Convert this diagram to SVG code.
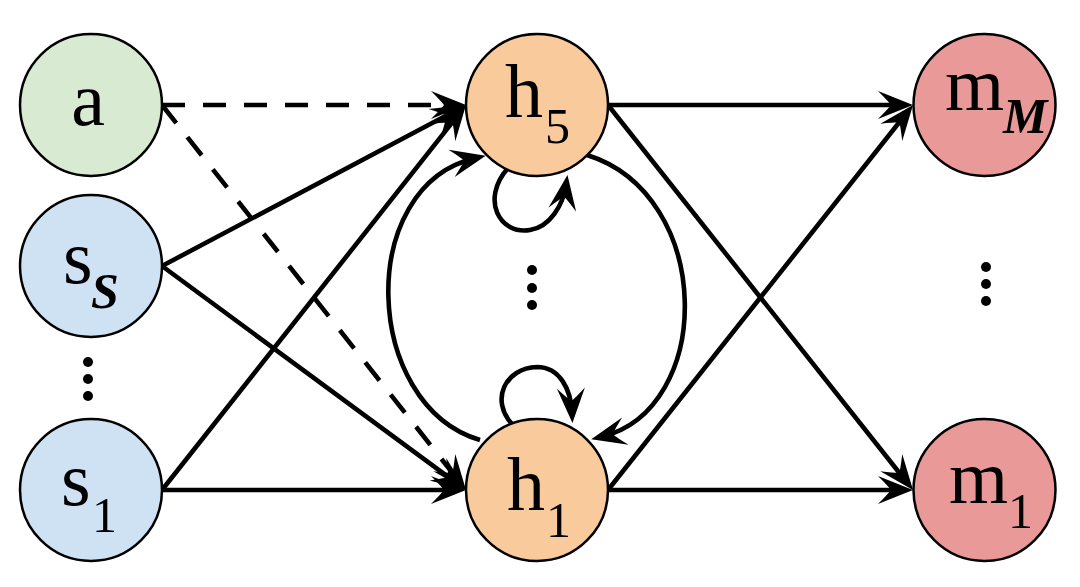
<svg xmlns="http://www.w3.org/2000/svg" width="1080" height="587" viewBox="0 0 1080 587">
<style>
.node{stroke:#000;stroke-width:2.5}
.a{fill:#d9ead3}.s{fill:#cfe2f3}.h{fill:#f9cb9c}.m{fill:#ea9999}
.lbl{font-family:"Liberation Serif",serif;font-size:76px;fill:#000}
.sub{font-family:"Liberation Serif",serif;font-size:50px;fill:#000}
.bi{font-weight:bold;font-style:italic}
.e{fill:none;stroke:#000;stroke-width:4.6;marker-end:url(#arr)}
.d{stroke-dasharray:23 18}
.dot{fill:#000}
</style>
<defs>
<marker id="arr" viewBox="-27 -16 40 32" refX="0" refY="0" markerWidth="40" markerHeight="32" markerUnits="userSpaceOnUse" orient="auto">
<path d="M10,0 L-25,-14 Q-15,-4 -12,0 Q-15,4 -25,14 Z" fill="#000" stroke="none"/>
</marker>
</defs>
<rect width="1080" height="587" fill="#fff"/>
<g id="connectors">
<path class="e d" d="M162,105 L456,105"/>
<path class="e d" d="M162,105 L459.8,482.2"/>
<path class="e" d="M162,266 L457.2,109.7"/>
<path class="e" d="M162,266 L458,484.1"/>
<path class="e" d="M162,490 L459.8,112.9"/>
<path class="e" d="M162,490 L456,490"/>
<path class="e" d="M608,105 L903,105"/>
<path class="e" d="M608,105 L906.8,482.2"/>
<path class="e" d="M608,490 L906.8,112.8"/>
<path class="e" d="M608,490 L903,490"/>
<path class="e" d="M480,440 C362,405 355,185 476,158"/>
<path class="e" d="M587,155 C715,195 715,410 601,437"/>
<path class="e" d="M508,168 C480,200 500,235 530,230 C550,227 563,205 566,185"/>
<path class="e" d="M512,424 C490,400 505,368 537,367 C560,367 571,390 572,413"/>
</g>
<g id="node-a"><circle class="node a" cx="91" cy="105" r="71"/><text class="lbl" x="88" y="125" text-anchor="middle">a</text></g>
<g id="node-sS"><circle class="node s" cx="91" cy="266" r="71"/><text class="lbl" x="63" y="283">s</text><text class="sub bi" x="91" y="308">S</text></g>
<g id="node-s1"><circle class="node s" cx="91" cy="490" r="71"/><text class="lbl" x="61" y="505">s</text><text class="sub" x="92" y="532">1</text></g>
<g id="node-h5"><circle class="node h" cx="537" cy="105" r="71"/><text class="lbl" x="505" y="117">h</text><text class="sub" x="545" y="143">5</text></g>
<g id="node-h1"><circle class="node h" cx="537" cy="490" r="71"/><text class="lbl" x="507" y="510">h</text><text class="sub" x="546" y="537">1</text></g>
<g id="node-mM"><circle class="node m" cx="984.5" cy="105" r="71"/><text class="lbl" x="945" y="110">m</text><text class="sub bi" x="1003" y="133">M</text></g>
<g id="node-m1"><circle class="node m" cx="984.5" cy="490" r="71"/><text class="lbl" x="949" y="503">m</text><text class="sub" x="1008" y="528">1</text></g>
<g id="dots">
<circle class="dot" cx="88" cy="362" r="5"/><circle class="dot" cx="88" cy="379" r="5"/><circle class="dot" cx="88" cy="396" r="5"/>
<circle class="dot" cx="532" cy="270" r="5"/><circle class="dot" cx="532" cy="288" r="5"/><circle class="dot" cx="532" cy="305" r="5"/>
<circle class="dot" cx="986" cy="267" r="5"/><circle class="dot" cx="986" cy="284" r="5"/><circle class="dot" cx="986" cy="301" r="5"/>
</g>
</svg>
